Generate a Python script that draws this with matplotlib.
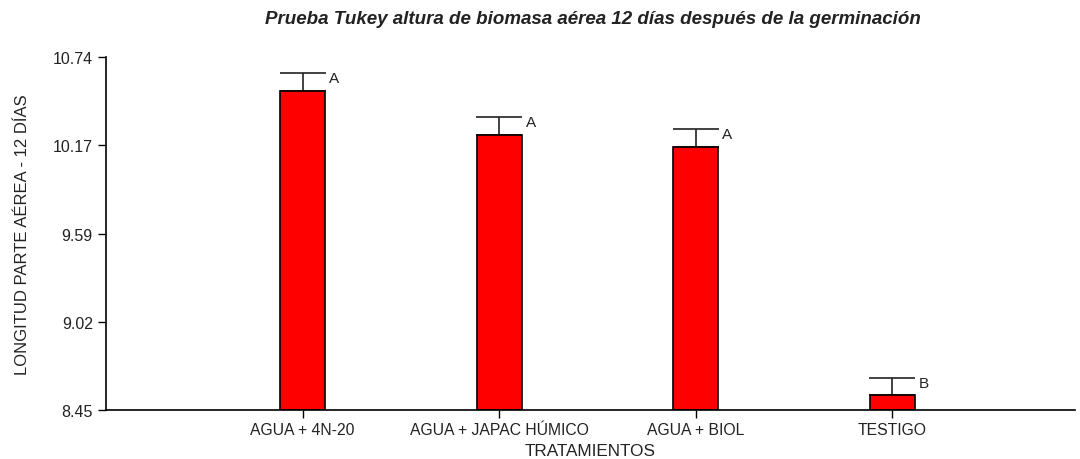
import matplotlib
matplotlib.use('Agg')
import matplotlib.pyplot as plt

plt.rcParams['font.family'] = ['Liberation Sans', 'DejaVu Sans']

tratamientos = ['AGUA + 4N-20', 'AGUA + JAPAC HÚMICO', 'AGUA + BIOL', 'TESTIGO']
medias = [10.52, 10.233, 10.155, 8.547]
errores = [0.115, 0.115, 0.115, 0.11]
letras = ['A', 'A', 'A', 'B']
yticks = [8.45, 9.02, 9.59, 10.17, 10.74]

fig = plt.figure(figsize=(10.8, 4.6), dpi=100)
ax = fig.add_axes([106 / 1080, 1 - 411 / 460, (1075 - 106) / 1080, (411 - 58) / 460])

pos = [1, 2, 3, 4]
base = yticks[0]
ax.bar(pos, [m - base for m in medias], bottom=base, width=0.229, color='#ff0000',
       edgecolor='black', linewidth=1.2, zorder=2)
ax.errorbar(pos, medias, yerr=[[0] * 4, errores], fmt='none', ecolor='#222222',
            elinewidth=1.2, capsize=16.5, capthick=1.2, zorder=1)
for p, m, e, l in zip(pos, medias, errores, letras):
    ax.text(p + 0.135, m + e - 0.03, l, fontsize=11, va='center', ha='left', color='#222222')

ax.set_xlim(0, 4.93)
ax.set_ylim(8.45, 10.74)
ax.set_xticks(pos)
ax.set_xticklabels(tratamientos, fontsize=11.3, color='#222222')
ax.set_yticks(yticks)
ax.set_yticklabels(['%.2f' % v for v in yticks], fontsize=11.5, color='#222222')
ax.tick_params(direction='out', length=6, width=1)
ax.tick_params(axis='x', pad=3)
ax.spines['top'].set_visible(False)
ax.spines['right'].set_visible(False)
ax.spines['left'].set_linewidth(1.2)
ax.spines['bottom'].set_linewidth(1.2)
ax.set_xlabel('TRATAMIENTOS', fontsize=12.3, color='#222222', labelpad=4)
ax.set_ylabel('LONGITUD PARTE AÉREA - 12 DÍAS', fontsize=12, color='#222222', labelpad=16)
fig.text(0.549, 0.957, 'Prueba Tukey altura de biomasa aérea 12 días después de la germinación',
         fontsize=13.5, fontweight='bold', fontstyle='italic', ha='center', va='center', color='#222222')

fig.savefig('out.png', dpi=100)
